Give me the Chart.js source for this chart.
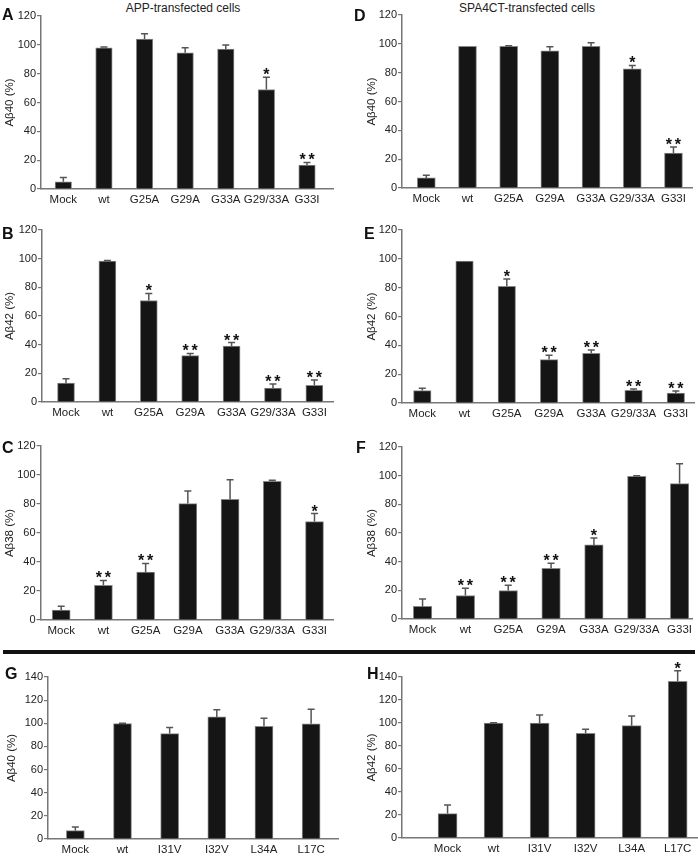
<!DOCTYPE html>
<html>
<head>
<meta charset="utf-8">
<script src="https://cdn.jsdelivr.net/npm/chart.js@4.4.0/dist/chart.umd.min.js"></script>
<style>
body { margin: 0; background: #fff; width: 698px; height: 856px; overflow: hidden; position: relative; font-family: "Liberation Sans", Arial, sans-serif; }
canvas { position: absolute; }
.letter { position: absolute; font-weight: bold; font-size: 16px; line-height: 16px; color: #111; }
.head { position: absolute; font-size: 12px; line-height: 12px; color: #222; white-space: nowrap; transform: translateX(-50%); }
#rule { position: absolute; left: 3px; top: 650px; width: 692px; height: 4px; background: #111; }
</style>
</head>
<body>
<div class="head" style="left:183px;top:1.5px">APP-transfected cells</div>
<div class="head" style="left:527px;top:1.5px">SPA4CT-transfected cells</div>
<div id="rule"></div>
<script>
const mutLabels = ["Mock", "wt", "G25A", "G29A", "G33A", "G29/33A", "G33I"];
const ileLabels = ["Mock", "wt", "I31V", "I32V", "L34A", "L17C"];

// APP-transfected cells
const appAb40 = [5, 98, 104, 94.5, 97, 69, 16.6];
const appAb40Err = [3, 0.5, 3.7, 3.5, 2.8, 8.5, 1.8];
const appAb40Sig = ["", "", "", "", "", "*", "**"];

const appAb42 = [13.2, 98.4, 70.8, 32.3, 39, 9.7, 11.6];
const appAb42Err = [3, 0.3, 4.9, 1.6, 2.5, 2.8, 3.7];
const appAb42Sig = ["", "", "*", "**", "**", "**", "**"];

const appAb38 = [6.9, 23.9, 33, 80.3, 83.3, 95.7, 67.9];
const appAb38Err = [2.5, 3.4, 6, 8.7, 13.5, 0.7, 5.5];
const appAb38Sig = ["", "**", "**", "", "", "", "*"];

// SPA4CT-transfected cells
const spaAb40 = [7, 98.2, 98.2, 95.2, 98.2, 82.7, 24.3];
const spaAb40Err = [1.9, 0, 0.5, 2.8, 2.6, 2.3, 4.2];
const spaAb40Sig = ["", "", "", "", "", "*", "**"];

const spaAb42 = [8.6, 98.4, 81, 30.1, 34.5, 8.8, 6.9];
const spaAb42Err = [1.6, 0, 5, 3, 2.3, 0.9, 1.4];
const spaAb42Sig = ["", "", "*", "**", "**", "**", "**"];

const spaAb38 = [8.8, 16.4, 19.9, 35.4, 51.7, 99.6, 94.5];
const spaAb38Err = [5.1, 5.1, 3.7, 3.5, 4.8, 0.3, 13.9];
const spaAb38Sig = ["", "**", "**", "**", "*", "", ""];

// bottom row
const ileAb40 = [7.2, 99.7, 91.1, 105.5, 97.4, 99.5];
const ileAb40Err = [3.1, 0.3, 5.2, 6.3, 6.9, 12.6];
const ileAb40Sig = ["", "", "", "", "", ""];

const ileAb42 = [21.2, 100, 100, 91, 97.7, 136.2];
const ileAb42Err = [7.5, 0.3, 7, 3.5, 8.4, 9.3];
const ileAb42Sig = ["", "", "", "", "", "*"];

Chart.defaults.font.family = '"Liberation Sans", Arial, sans-serif';

// error bars + significance stars
const errorBars = {
    id: "errorBars",
    afterDatasetsDraw(chart) {
        const ctx = chart.ctx;
        const y = chart.scales.y;
        const ds = chart.data.datasets[0];
        const meta = chart.getDatasetMeta(0);
        ctx.save();
        meta.data.forEach((bar, i) => {
            const top = y.getPixelForValue(ds.data[i].y + ds.errors[i]);
            if (ds.errors[i] > 0) {
                ctx.strokeStyle = "#555";
                ctx.lineWidth = 1.5;
                ctx.beginPath();
                ctx.moveTo(bar.x, bar.y);
                ctx.lineTo(bar.x, top);
                ctx.moveTo(bar.x - 3.5, top);
                ctx.lineTo(bar.x + 3.5, top);
                ctx.stroke();
            }
            const s = ds.stars[i];
            if (s) {
                ctx.fillStyle = "#111";
                ctx.font = 'bold 16px "Liberation Sans", Arial, sans-serif';
                ctx.textAlign = "center";
                ctx.textBaseline = "alphabetic";
                for (let k = 0; k < s.length; k++) {
                    ctx.fillText("*", bar.x + (k - (s.length - 1) / 2) * 9, top + 3);
                }
            }
        });
        ctx.restore();
    }
};

const panels = [
    { id: "A", labels: mutLabels, vals: appAb40, errs: appAb40Err, sig: appAb40Sig, ytitle: "A\u03b240 (%)", ymax: 120, L: 41, R: 333, T: 16, B: 189, tx: 10, min: -0.55, max: 6.64, bw: 16.5, lx: 2, ly: 7 },
    { id: "B", labels: mutLabels, vals: appAb42, errs: appAb42Err, sig: appAb42Sig, ytitle: "A\u03b242 (%)", ymax: 120, L: 42, R: 333, T: 230, B: 402, tx: 10, min: -0.58, max: 6.45, bw: 17, lx: 2, ly: 226 },
    { id: "C", labels: mutLabels, vals: appAb38, errs: appAb38Err, sig: appAb38Sig, ytitle: "A\u03b238 (%)", ymax: 120, L: 40, R: 333, T: 446, B: 620, tx: 9.5, min: -0.49, max: 6.45, bw: 18, lx: 2, ly: 440 },
    { id: "D", labels: mutLabels, vals: spaAb40, errs: spaAb40Err, sig: spaAb40Sig, ytitle: "A\u03b240 (%)", ymax: 120, L: 402, R: 692, T: 15, B: 188, tx: 372, min: -0.59, max: 6.45, bw: 18, lx: 354, ly: 8 },
    { id: "E", labels: mutLabels, vals: spaAb42, errs: spaAb42Err, sig: spaAb42Sig, ytitle: "A\u03b242 (%)", ymax: 120, L: 402, R: 694, T: 230, B: 403, tx: 372, min: -0.48, max: 6.43, bw: 17.5, lx: 364, ly: 226 },
    { id: "F", labels: mutLabels, vals: spaAb38, errs: spaAb38Err, sig: spaAb38Sig, ytitle: "A\u03b238 (%)", ymax: 120, L: 402, R: 692, T: 447, B: 619, tx: 372, min: -0.48, max: 6.29, bw: 18.5, lx: 356, ly: 440 },
    { id: "G", labels: ileLabels, vals: ileAb40, errs: ileAb40Err, sig: ileAb40Sig, ytitle: "A\u03b240 (%)", ymax: 140, L: 48, R: 338, T: 677, B: 839, tx: 12, min: -0.58, max: 5.57, bw: 18, lx: 5, ly: 666 },
    { id: "H", labels: ileLabels, vals: ileAb42, errs: ileAb42Err, sig: ileAb42Sig, ytitle: "A\u03b242 (%)", ymax: 140, L: 402, R: 697, T: 677, B: 838, tx: 372, min: -0.99, max: 5.42, bw: 19, lx: 367, ly: 666 }
];

function makePanel(p) {
    const padTop = Math.min(16, p.T);
    const cLeft = p.tx - 10;
    const cTop = p.T - padTop;
    const w = Math.round(p.R + 6 - cLeft);
    const h = Math.round(p.B + 20 - cTop);
    const cv = document.createElement("canvas");
    cv.width = w;
    cv.height = h;
    cv.style.left = cLeft + "px";
    cv.style.top = cTop + "px";
    cv.style.width = w + "px";
    cv.style.height = h + "px";
    document.body.appendChild(cv);

    const letter = document.createElement("div");
    letter.className = "letter";
    letter.textContent = p.id;
    letter.style.left = p.lx + "px";
    letter.style.top = p.ly + "px";
    document.body.appendChild(letter);

    new Chart(cv, {
        type: "bar",
        data: {
            datasets: [{
                data: p.vals.map((v, i) => ({ x: i, y: v })),
                errors: p.errs,
                stars: p.sig,
                backgroundColor: "#151515",
                borderColor: "#888",
                borderWidth: 1,
                barThickness: p.bw
            }]
        },
        options: {
            responsive: false,
            animation: false,
            events: [],
            layout: { padding: { top: padTop, right: w - (p.R - cLeft), left: 0, bottom: 0 } },
            plugins: { legend: { display: false }, tooltip: { enabled: false } },
            scales: {
                x: {
                    type: "linear",
                    offset: false,
                    min: p.min,
                    max: p.max,
                    grid: { display: false, drawTicks: false },
                    border: { display: true, color: "#777", width: 1.5 },
                    ticks: {
                        autoSkip: false, maxRotation: 0, padding: 4, color: "#222",
                        font: { size: 11.5 },
                        callback: (v) => p.labels[v]
                    },
                    afterBuildTicks: (a) => { a.ticks = p.labels.map((_, i) => ({ value: i })); },
                    afterFit: (a) => { a.height = 20; }
                },
                y: {
                    min: 0,
                    max: p.ymax,
                    ticks: { stepSize: 20, padding: 1, color: "#222", font: { size: 11 } },
                    grid: { display: true, drawOnChartArea: false, drawTicks: true, tickLength: 4, color: "#777", lineWidth: 1.2 },
                    border: { display: true, color: "#777", width: 1.5 },
                    title: { display: true, text: p.ytitle, color: "#222", font: { size: 11.5 }, padding: { top: 3, bottom: 0 } },
                    afterFit: (a) => { a.width = p.L - cLeft; }
                }
            }
        },
        plugins: [errorBars]
    });
}

panels.forEach(makePanel);
</script>
</body>
</html>
